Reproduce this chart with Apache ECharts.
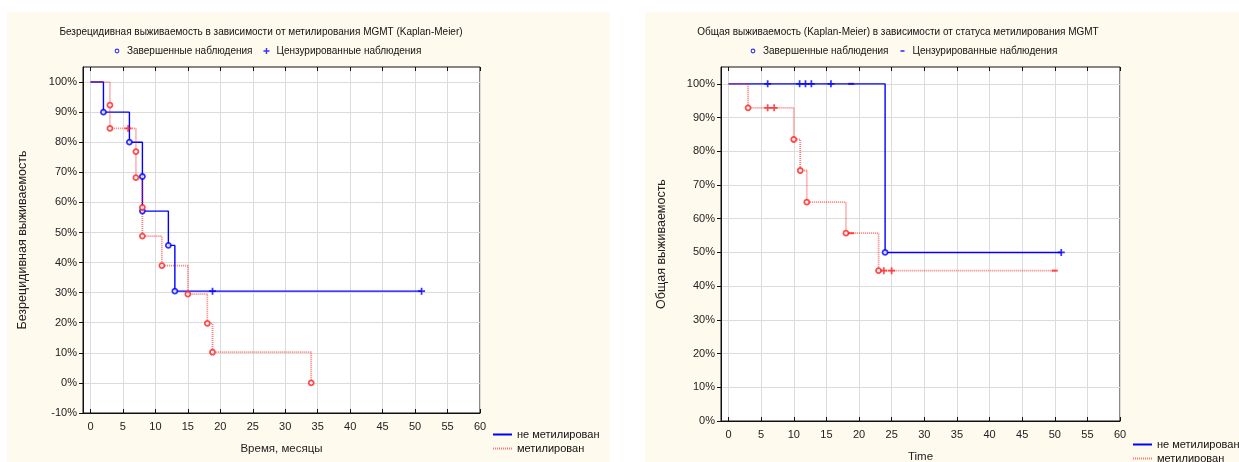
<!DOCTYPE html>
<html>
<head>
<meta charset="utf-8">
<script src="https://cdn.jsdelivr.net/npm/echarts@6/dist/echarts.min.js"></script>
<style>
  html, body { margin: 0; padding: 0; background: #ffffff; width: 1239px; height: 462px; overflow: hidden; }
  .panel { position: absolute; top: 12px; height: 450px; background: #fffaee; }
  #rfs { left: 7px; width: 603px; }
  #os  { left: 645px; width: 594px; }
</style>
</head>
<body>
<div id="rfs" class="panel"></div>
<div id="os" class="panel"></div>
<script>
// ---- axis ticks ----
const timeTicks = [0, 5, 10, 15, 20, 25, 30, 35, 40, 45, 50, 55, 60];
const rfsPctTicks = [-10, 0, 10, 20, 30, 40, 50, 60, 70, 80, 90, 100];
const osPctTicks = [0, 10, 20, 30, 40, 50, 60, 70, 80, 90, 100];

// ---- group / legend names ----
const groupUnmeth = 'не метилирован';
const groupMeth = 'метилирован';
const obsComplete = 'Завершенные наблюдения';
const obsCensored = 'Цензурированные наблюдения';

// ---- relapse-free survival: not methylated ----
const rfsUnmethEventT = [2, 6, 8, 8, 12, 13];
const rfsUnmethEventS = [90, 80, 68.6, 57.1, 45.7, 30.5];
const rfsUnmethCensT = [18.8, 51];
const rfsUnmethCensS = [30.5, 30.5];

// ---- relapse-free survival: methylated ----
const rfsMethEventT = [3, 3, 7, 7, 8, 8, 11, 15, 18, 18.8, 34];
const rfsMethEventS = [92.3, 84.6, 76.9, 68.2, 58.3, 48.8, 39.0, 29.5, 19.8, 10.2, 0];
const rfsMethCensT = [5.8];
const rfsMethCensS = [84.6];

// ---- overall survival: not methylated ----
const osUnmethEventT = [24];
const osUnmethEventS = [50];
const osUnmethCensPlusT = [6, 10.9, 11.8, 12.7, 15.7, 51];
const osUnmethCensPlusS = [100, 100, 100, 100, 100, 50];
const osUnmethCensDashT = [18.8];
const osUnmethCensDashS = [100];

// ---- overall survival: methylated ----
const osMethEventT = [3, 10, 11, 12, 18, 23];
const osMethEventS = [92.9, 83.5, 74.3, 64.9, 55.7, 44.6];
const osMethCensPlusT = [6, 7, 23.8, 25];
const osMethCensPlusS = [92.9, 92.9, 44.6, 44.6];
const osMethCensDashT = [18.8, 50];
const osMethCensDashS = [55.7, 44.6];

// ---- drawing helpers ----
const FONT = "'Liberation Sans', Arial, sans-serif";
const BLUE = '#0000ff';
const RED = '#ff2020';
const PLUS = 'path://M3,0H5V3H8V5H5V8H3V5H0V3H3Z';
const DASH = 'path://M0,0H8V2H0Z';
// legend icons padded with empty move-to points so they keep a small glyph size
const DOT_ICON = 'path://M0,0M10,8M5,1.6A2.4,2.4,0,1,1,4.99,1.6ZM5,2.7A1.3,1.3,0,1,0,5.01,2.7Z';
const PLUS_ICON = 'path://M0,0M10,8M4.3,1H5.7V3.3H8V4.7H5.7V7H4.3V4.7H2V3.3H4.3Z';
const DASH_ICON = 'path://M0,0M10,8M3,3.2H7V4.8H3Z';

function pairs(ts, ss) { return ts.map((t, i) => [t, ss[i]]); }

// Kaplan-Meier step curve: start at 100%, then every event and censoring point in time order
function kmCurve(eventT, eventS, censT, censS) {
  const pts = pairs(eventT, eventS).concat(pairs(censT, censS));
  pts.sort((a, b) => a[0] - b[0]);
  return [[0, 100]].concat(pts);
}

function lineSeries(name, data, color, type, width, opacity) {
  return {
    type: 'line', name: name, data: data, step: 'end',
    symbol: 'none', showSymbol: false, z: 2,
    lineStyle: { color: color, width: width, type: type, opacity: opacity },
    itemStyle: { color: color }
  };
}

function eventSeries(data, color) {
  return {
    type: 'scatter', name: obsComplete, data: data, z: 4,
    symbol: 'circle', symbolSize: 5,
    itemStyle: { color: '#ffffff', borderColor: color, borderWidth: 1.8 }
  };
}

function censSeries(data, color, symbol, size) {
  return {
    type: 'scatter', name: obsCensored, data: data, z: 4,
    symbol: symbol, symbolSize: size,
    itemStyle: { color: color }
  };
}

function buildOption(cfg) {
  return {
    animation: false,
    textStyle: { fontFamily: FONT },
    title: {
      text: cfg.title, left: cfg.titleX, top: 10, textAlign: 'center',
      textStyle: { fontFamily: FONT, fontSize: 10, fontWeight: 'normal', color: '#111' }
    },
    legend: [
      {
        left: cfg.topLegendX, top: 34, padding: 0, itemWidth: 10, itemHeight: 8, itemGap: 9,
        textStyle: { fontFamily: FONT, fontSize: 10, color: '#111' },
        data: [
          { name: obsComplete, icon: DOT_ICON, itemStyle: { color: BLUE, borderWidth: 0 } },
          { name: obsCensored, icon: cfg.censIcon, itemStyle: { color: BLUE } }
        ],
        selectedMode: false
      },
      {
        left: cfg.botLegendX, top: cfg.botLegendY, height: 60, padding: 0, orient: 'vertical',
        itemWidth: 19, itemHeight: 8, itemGap: 3,
        textStyle: { fontFamily: FONT, fontSize: 11, color: '#111' },
        itemStyle: { opacity: 0 },
        data: [groupUnmeth, groupMeth],
        selectedMode: false
      }
    ],
    grid: {
      left: 76, right: cfg.gridRight, top: cfg.gridTop, bottom: cfg.gridBottom,
      outerBoundsMode: 'none',
      show: true, backgroundColor: '#ffffff', borderColor: '#111', borderWidth: 1
    },
    xAxis: [
      {
        type: 'value', min: -1.15, max: 60,
        name: cfg.xName, nameLocation: 'middle', nameGap: cfg.xNameGap,
        nameTextStyle: { fontFamily: FONT, fontSize: 11.5, color: '#222' },
        axisLine: { show: true, onZero: false, lineStyle: { color: '#111', width: 1 } },
        axisTick: { show: true, inside: true, length: 4, customValues: timeTicks, lineStyle: { color: '#111' } },
        axisLabel: { show: true, customValues: timeTicks, margin: 8, fontFamily: FONT, fontSize: 11, color: '#222' },
        splitLine: { show: true, lineStyle: { color: '#dcdcdc', width: 1 } }
      },
      {
        type: 'value', min: -1.15, max: 60, position: 'top',
        axisLine: { show: false, onZero: false },
        axisTick: { show: true, inside: true, length: 4, customValues: timeTicks, lineStyle: { color: '#111' } },
        axisLabel: { show: false },
        splitLine: { show: false }
      }
    ],
    yAxis: [
      {
        type: 'value', min: cfg.yMin, max: 105,
        name: cfg.yName, nameLocation: 'middle', nameGap: cfg.yNameGap,
        nameTextStyle: { fontFamily: FONT, fontSize: 12.5, color: '#222' },
        axisLine: { show: true, onZero: false, lineStyle: { color: '#111', width: 1 } },
        axisTick: { show: true, length: 4, customValues: cfg.yTicks, lineStyle: { color: '#111' } },
        axisLabel: { customValues: cfg.yTicks, formatter: '{value}%', margin: 6, fontFamily: FONT, fontSize: 11, color: '#222' },
        splitLine: { show: true, lineStyle: { color: '#dcdcdc', width: 1 } }
      }
    ],
    series: cfg.series
  };
}

// ---- relapse-free survival chart ----
const rfsChart = echarts.init(document.getElementById('rfs'), null, { renderer: 'canvas' });
rfsChart.setOption(buildOption({
  title: 'Безрецидивная выживаемость в зависимости от метилирования MGMT (Kaplan-Meier)',
  titleX: 249, topLegendX: 105, censIcon: PLUS_ICON,
  botLegendX: 485, botLegendY: 417,
  gridRight: 130, gridTop: 55, gridBottom: 49,
  xName: 'Время, месяцы', xNameGap: 30,
  yName: 'Безрецидивная выживаемость', yNameGap: 54, yMin: -10, yTicks: rfsPctTicks,
  series: [
    lineSeries(groupUnmeth, kmCurve(rfsUnmethEventT, rfsUnmethEventS, rfsUnmethCensT, rfsUnmethCensS), BLUE, 'solid', 1.4, 1),
    lineSeries(groupMeth, kmCurve(rfsMethEventT, rfsMethEventS, rfsMethCensT, rfsMethCensS), RED, [1, 1], 1.8, 0.6),
    eventSeries(pairs(rfsUnmethEventT, rfsUnmethEventS), BLUE),
    eventSeries(pairs(rfsMethEventT, rfsMethEventS), RED),
    censSeries(pairs(rfsUnmethCensT, rfsUnmethCensS), BLUE, PLUS, [7, 7]),
    censSeries(pairs(rfsMethCensT, rfsMethCensS), RED, PLUS, [7, 7])
  ]
}));

// ---- overall survival chart ----
const osChart = echarts.init(document.getElementById('os'), null, { renderer: 'canvas' });
osChart.setOption(buildOption({
  title: 'Общая выживаемость (Kaplan-Meier) в зависимости от статуса метилирования MGMT',
  titleX: 248, topLegendX: 103, censIcon: DASH_ICON,
  botLegendX: 487, botLegendY: 427,
  gridRight: 119, gridTop: 55, gridBottom: 41,
  xName: 'Time', xNameGap: 30,
  yName: 'Общая выживаемость', yNameGap: 53, yMin: 0, yTicks: osPctTicks,
  series: [
    lineSeries(groupUnmeth, kmCurve(osUnmethEventT, osUnmethEventS, osUnmethCensPlusT.concat(osUnmethCensDashT), osUnmethCensPlusS.concat(osUnmethCensDashS)), BLUE, 'solid', 1.4, 1),
    lineSeries(groupMeth, kmCurve(osMethEventT, osMethEventS, osMethCensPlusT.concat(osMethCensDashT), osMethCensPlusS.concat(osMethCensDashS)), RED, [1, 1], 1.8, 0.6),
    eventSeries(pairs(osUnmethEventT, osUnmethEventS), BLUE),
    eventSeries(pairs(osMethEventT, osMethEventS), RED),
    censSeries(pairs(osUnmethCensPlusT, osUnmethCensPlusS), BLUE, PLUS, [7, 7]),
    censSeries(pairs(osUnmethCensDashT, osUnmethCensDashS), BLUE, DASH, [6, 2]),
    censSeries(pairs(osMethCensPlusT, osMethCensPlusS), RED, PLUS, [7, 7]),
    censSeries(pairs(osMethCensDashT, osMethCensDashS), RED, DASH, [6, 2])
  ]
}));
</script>
</body>
</html>
